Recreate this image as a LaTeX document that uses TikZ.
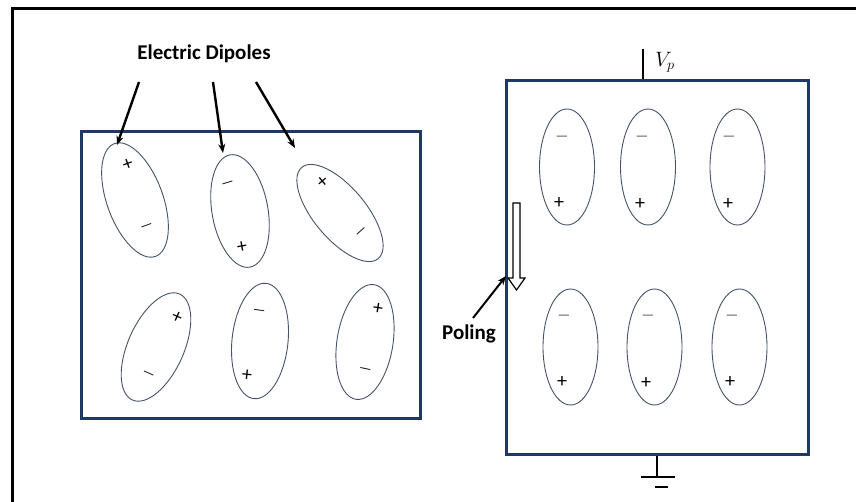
\documentclass[tikz,border=0pt]{standalone}
\usepackage{fontspec}
\setmainfont{Carlito}
\usetikzlibrary{shapes.geometric,arrows.meta}
\definecolor{boxnavy}{HTML}{1F3864}
\definecolor{dipoleblue}{HTML}{44546A}
\begin{document}
\begin{tikzpicture}[x=1pt,y=-1pt,
  panel/.style={draw=boxnavy, line width=3pt, rectangle, inner sep=0pt},
  dipole/.style={draw=dipoleblue, line width=0.9pt, ellipse, inner sep=0pt},
  plussign/.style={inner sep=0pt, font=\fontsize{20}{20}\selectfont},
  minussign/.style={inner sep=0pt, font=\fontsize{14}{14}\selectfont},
  label/.style={inner sep=0pt, font=\fontsize{21}{24}\selectfont\bfseries},
  pointer/.style={line width=2.4pt, -{Stealth[length=9pt,width=7pt]}},
  wire/.style={line width=1.4pt}]
\useasboundingbox (0,0) rectangle (856,502);
\clip (0,0) rectangle (856,502);
\fill[white] (0,0) rectangle (856,502);

% outer frame (left and top edges)
\draw[line width=3pt] (12,520) -- (12,9) -- (870,9);

% unpoled sample
\node[panel, minimum width=339pt, minimum height=286pt] (left) at (250.5,275) {};
\node[dipole, minimum width=56pt, minimum height=120pt, rotate=20]  (d1) at (135,200) {};
\node[dipole, minimum width=56pt, minimum height=114pt, rotate=10]  (d2) at (240,211) {};
\node[dipole, minimum width=52pt, minimum height=119pt, rotate=40]  (d3) at (340,213) {};
\node[dipole, minimum width=56pt, minimum height=116pt, rotate=-24] (d4) at (156,347) {};
\node[dipole, minimum width=56pt, minimum height=116pt, rotate=-6]  (d5) at (260,341) {};
\node[dipole, minimum width=56pt, minimum height=116pt, rotate=-9]  (d6) at (365,342) {};

\node[plussign, rotate=20]   (p1) at (128,165) {+};
\node[minussign, rotate=20]  (m1) at (147,227) {—};
\node[minussign, rotate=17]  (m2) at (228,185) {—};
\node[plussign, rotate=10]   (p2) at (242,247) {+};
\node[plussign, rotate=40]   (p3) at (323,182) {+};
\node[minussign, rotate=42]  (m3) at (362,233) {—};
\node[plussign, rotate=-24]  (p4) at (177,318) {+};
\node[minussign, rotate=-24] (m4) at (148,375) {—};
\node[minussign, rotate=-8]  (m5) at (259,312) {—};
\node[plussign, rotate=-6]   (p5) at (247,376) {+};
\node[plussign, rotate=-9]   (p6) at (378,309) {+};
\node[minussign, rotate=-12] (m6) at (365,371) {—};

% label with pointers
\node[label] (dip) at (204,54) {Electric Dipoles};
\coordinate (a1s) at (139,82);  \coordinate (a1e) at (117,145);
\coordinate (a2s) at (213,82);  \coordinate (a2e) at (223,153);
\coordinate (a3s) at (256,82);  \coordinate (a3e) at (295,148);
\draw[pointer] (a1s) -- (a1e);
\draw[pointer] (a2s) -- (a2e);
\draw[pointer] (a3s) -- (a3e);

% poled sample
\node[panel, minimum width=302pt, minimum height=373pt] (right) at (657,267.5) {};
\foreach \n/\x/\y in {r1/567/167, r2/648/167, r3/737.5/167,
                      r4/570.5/347, r5/654.5/347, r6/739.5/347}
  \node[dipole, minimum width=55pt, minimum height=116pt] (\n) at (\x,\y) {};
\foreach \n/\x/\y in {rm1/562/138, rm2/642/138, rm3/729/138,
                      rm4/564/317, rm5/648/317, rm6/732/317}
  \node[minussign, text=black!70] (\n) at (\x,\y) {—};
\foreach \n/\x/\y in {rp1/559/203, rp2/640/204, rp3/728/204,
                      rp4/562/382, rp5/646/383, rp6/730/382}
  \node[plussign] (\n) at (\x,\y) {+};

% supply terminal
\coordinate (vtop) at (643,49);
\draw[wire] (vtop) -- (right.north -| vtop);
\node[inner sep=0pt, font=\fontsize{21}{21}\selectfont] (vp) at (665,62) {$V_p$};

% ground
\coordinate (gnd) at (657,477);
\draw[wire] (right.south -| gnd) -- (gnd);
\coordinate (g1l) at (641,477); \coordinate (g1r) at (675,477);
\coordinate (g2l) at (655,487); \coordinate (g2r) at (668,487);
\draw[wire] (g1l) -- (g1r);
\draw[line width=1.8pt] (g2l) -- (g2r);

% poling direction
\draw[line width=1.2pt, fill=white] (513,203) -- (520,203) -- (520,278) -- (525,278)
  -- (516.5,290) -- (508,278) -- (513,278) -- cycle;
\node[label] (pol) at (469,334) {Poling};
\coordinate (polS) at (473,318);
\coordinate (polE) at (506,276);
\draw[pointer, line width=2pt] (polS) -- (polE);
\end{tikzpicture}
\end{document}
